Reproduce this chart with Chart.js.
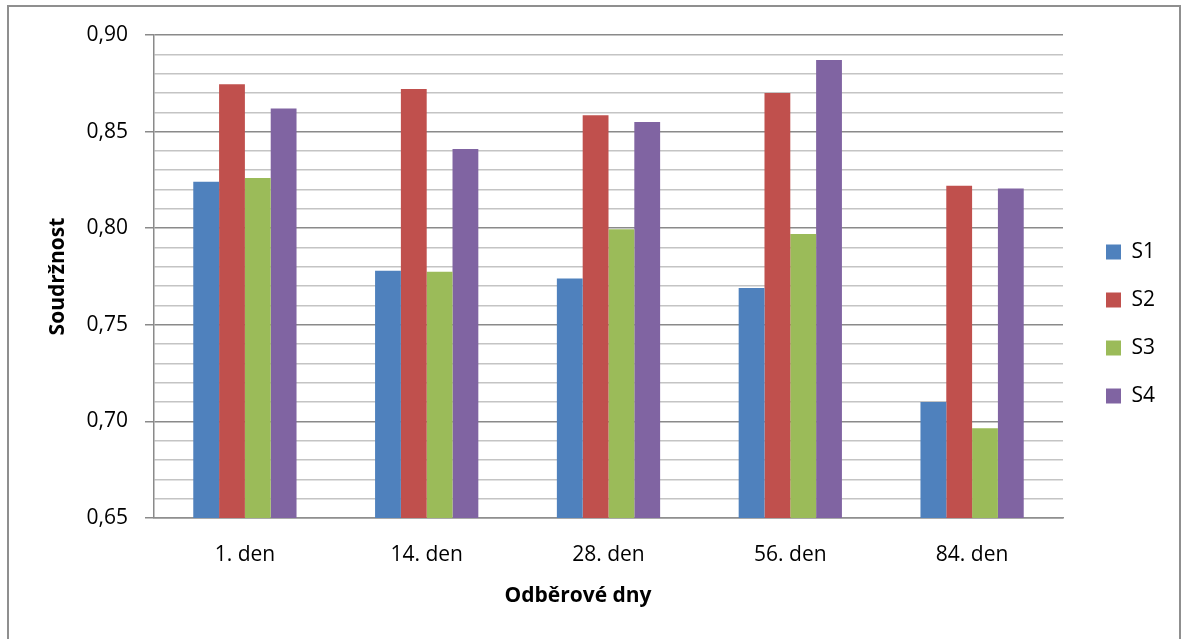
<!DOCTYPE html>
<html>
<head>
<meta charset="utf-8">
<script src="https://cdn.jsdelivr.net/npm/chart.js@4.4.1/dist/chart.umd.min.js"></script>
<style>
  html, body { margin: 0; padding: 0; background: #fff; overflow: hidden; }
  #wrap { position: absolute; left: 0; top: 0; width: 1181px; height: 639px; }
  #frame { position: absolute; left: 7px; top: 5px; width: 1170px; height: 700px;
           border: 2px solid #8f8f8f; border-bottom: none; pointer-events: none; }
</style>
</head>
<body>
<div id="wrap"><canvas id="c" width="1181" height="639"></canvas></div>
<div id="frame"></div>
<script>
const categories = ['1. den', '14. den', '28. den', '56. den', '84. den'];
const seriesNames = ['S1', 'S2', 'S3', 'S4'];
const S1 = [0.824, 0.778, 0.774, 0.769, 0.710];
const S2 = [0.8745, 0.872, 0.8585, 0.870, 0.822];
const S3 = [0.826, 0.7775, 0.7995, 0.797, 0.6965];
const S4 = [0.862, 0.841, 0.855, 0.887, 0.8205];
const seriesColors = ['#4F81BD', '#C0504D', '#9BBB59', '#8064A2'];
const yMin = 0.65, yMax = 0.90, yStep = 0.01;
const yTitle = 'Soudržnost';
const xTitle = 'Odběrové dny';

const FONT = '"Open Sans", "Noto Sans", sans-serif';
const values = [S1, S2, S3, S4];

function isMajor(v) {
  const r = Math.round(v * 100);
  return r % 5 === 0;
}

const xTitlePlugin = {
  id: 'xTitlePlugin',
  afterDraw(chart) {
    const ctx = chart.ctx;
    ctx.save();
    ctx.font = 'bold 21px ' + FONT;
    ctx.fillStyle = '#000';
    ctx.textAlign = 'center';
    ctx.textBaseline = 'middle';
    ctx.fillText(xTitle, 578, 596);
    ctx.restore();
  }
};

new Chart(document.getElementById('c'), {
  type: 'bar',
  data: {
    labels: categories,
    datasets: seriesNames.map((n, i) => ({
      label: n,
      data: values[i],
      backgroundColor: seriesColors[i],
      borderWidth: 0,
      yAxisID: 'y',
      categoryPercentage: 0.568,
      barPercentage: 1.0
    }))
  },
  options: {
    responsive: false,
    animation: false,
    devicePixelRatio: 1,
    layout: { padding: { top: 35, bottom: 26, left: 0, right: 20 } },
    plugins: {
      legend: {
        position: 'right',
        align: 'center',
        maxWidth: 82,
        labels: {
          boxWidth: 15,
          boxHeight: 15,
          padding: 27,
          color: '#000',
          font: { family: FONT, size: 21 }
        }
      },
      tooltip: { enabled: false }
    },
    scales: {
      x: {
        offset: true,
        grid: { display: false, drawTicks: false },
        border: { display: true, color: '#8f8f8f', width: 1.5 },
        ticks: { color: '#000', padding: 24, font: { family: FONT, size: 21 } },
        afterFit(s) { s.height = 95; }
      },
      y: {
        position: 'left',
        min: yMin,
        max: yMax,
        ticks: {
          stepSize: yStep,
          autoSkip: false,
          color: '#000',
          padding: 17,
          font: { family: FONT, size: 21 },
          callback(v) { return isMajor(v) ? v.toFixed(2).replace('.', ',') : ''; }
        },
        grid: {
          drawTicks: true,
          tickLength: 9,
          lineWidth: 1.5,
          color(ctx) { return ctx.tick && isMajor(ctx.tick.value) ? '#8a8a8a' : '#c4c4c4'; },
          tickColor(ctx) { return ctx.tick && isMajor(ctx.tick.value) ? '#8a8a8a' : 'rgba(0,0,0,0)'; }
        },
        border: { display: true, color: '#8a8a8a', width: 1.5 },
        title: {
          display: true,
          text: yTitle,
          color: '#000',
          font: { family: FONT, size: 21, weight: 'bold' },
          padding: { top: 45, bottom: 0 }
        },
        afterFit(s) { s.width = 154; }
      },
      y2: {
        position: 'right',
        min: yMin,
        max: yMax,
        display: true,
        grid: { display: false, drawTicks: false },
        border: { display: false },
        ticks: { display: false },
        afterFit(s) { s.width = 16; }
      }
    }
  },
  plugins: [xTitlePlugin]
});
</script>
</body>
</html>
